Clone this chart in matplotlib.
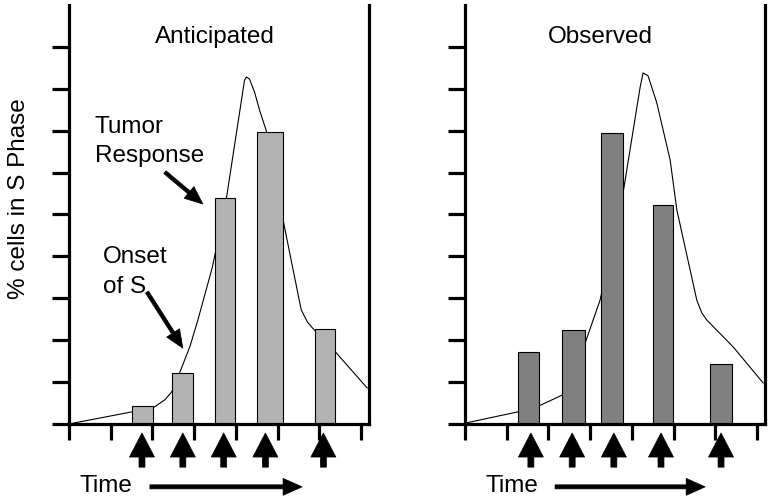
import matplotlib
matplotlib.use("Agg")
import matplotlib.pyplot as plt

plt.rcParams['font.family'] = ['Liberation Sans', 'DejaVu Sans']

# ---------------- data ----------------
panel_titles = ["Anticipated", "Observed"]
y_label = "% cells in S Phase"

# bars: centres (time units), widths, heights (% cells)
ant_bar_x = [1.76, 2.72, 3.73, 4.81, 6.14]
ant_bar_w = [0.50, 0.52, 0.48, 0.62, 0.50]
ant_bar_h = [0.43, 1.22, 5.39, 6.97, 2.27]

obs_bar_x = [1.52, 2.60, 3.525, 4.745, 6.14]
obs_bar_w = [0.50, 0.56, 0.53, 0.47, 0.52]
obs_bar_h = [1.72, 2.24, 6.94, 5.23, 1.43]

# treatment times (arrows under the axis)
ant_doses = [1.75, 2.73, 3.71, 4.71, 6.10]
obs_doses = [1.58, 2.57, 3.57, 4.70, 6.14]

# S-phase curves
ant_curve_x = [0.10, 1.51, 2.01, 2.30, 2.46, 2.66, 2.90, 3.09, 3.44, 3.78, 4.21, 4.26,
               4.33, 4.45, 4.57, 4.74, 5.12, 5.36, 5.57, 5.72, 5.84, 6.39, 7.15]
ant_curve_y = [0.02, 0.29, 0.38, 0.58, 0.76, 1.24, 1.85, 2.48, 3.75, 5.42, 8.21, 8.28,
               8.23, 7.92, 7.49, 6.97, 4.94, 3.75, 2.72, 2.43, 2.29, 1.72, 0.86]

obs_curve_x = [0.00, 1.27, 1.77, 2.33, 2.88, 3.24, 3.79, 4.20, 4.27, 4.39, 4.60,
               4.92, 5.08, 5.32, 5.56, 5.68, 5.80, 6.43, 7.15]
obs_curve_y = [0.02, 0.29, 0.43, 0.69, 1.93, 2.96, 5.51, 8.04, 8.38, 8.31, 7.66,
               6.30, 5.11, 4.03, 2.95, 2.65, 2.48, 1.84, 0.98]

y_ticks = list(range(0, 10))
x_ticks = list(range(0, 8))

# ---------------- figure ----------------
fig = plt.figure(figsize=(7.70, 4.99), dpi=100)
ax1 = fig.add_axes([69 / 770, 75 / 499, 300 / 770, 419 / 499])
ax2 = fig.add_axes([465 / 770, 75 / 499, 300 / 770, 419 / 499])

FS = 17.5
bar_colors = ["#b2b2b2", "#808080"]


def style_axes(ax):
    ax.set_xlim(0, 300 / 41.7)
    ax.set_ylim(0, 10)
    for s in ["left", "right", "bottom"]:
        ax.spines[s].set_linewidth(2.3)
        ax.spines[s].set_color("black")
    ax.spines["top"].set_visible(False)
    ax.set_yticks(y_ticks)
    ax.set_xticks(x_ticks)
    ax.set_yticklabels([])
    ax.set_xticklabels([])
    ax.tick_params(axis="y", direction="out", length=12.5, width=2.3, right=False)
    ax.tick_params(axis="x", direction="out", length=11.5, width=2.3)


def dose_arrows(ax, xs):
    for x in xs:
        ax.annotate("", xy=(x, -0.215), xytext=(x, -1.03), xycoords="data",
                    textcoords="data", annotation_clip=False,
                    arrowprops=dict(arrowstyle="simple,head_length=1.73,head_width=1.8,tail_width=0.43",
                                    mutation_scale=10, fc="black", ec="black",
                                    shrinkA=0, shrinkB=0, lw=0.5))


def time_arrow(ax, x_text, x0, x1):
    ax.text(x_text, -1.62, "Time", fontsize=FS, ha="left", va="baseline", clip_on=False)
    ax.annotate("", xy=(x1, -1.50), xytext=(x0, -1.50), xycoords="data",
                textcoords="data", annotation_clip=False,
                arrowprops=dict(arrowstyle="simple,head_length=1.37,head_width=1.22,tail_width=0.29",
                                mutation_scale=10, fc="black", ec="black",
                                shrinkA=0, shrinkB=0, lw=0.5))


def pointer(ax, xy_from, xy_to):
    ax.annotate("", xy=xy_to, xytext=xy_from, xycoords="data", textcoords="data",
                arrowprops=dict(arrowstyle="simple,head_length=1.3,head_width=1.1,tail_width=0.26",
                                mutation_scale=10, fc="black", ec="black",
                                shrinkA=0, shrinkB=0, lw=0.5))


# left panel
style_axes(ax1)
ax1.plot(ant_curve_x, ant_curve_y, color="black", lw=0.8, zorder=1,
         solid_joinstyle="round")
ax1.bar(ant_bar_x, ant_bar_h, width=ant_bar_w, color=bar_colors[0],
        edgecolor="black", linewidth=0.8, zorder=2)
ax1.text(0.487, 9.09, panel_titles[0], transform=ax1.get_yaxis_transform(),
         fontsize=FS, ha="center", va="baseline")
ax1.text(0.62, 6.945, "Tumor", fontsize=FS, ha="left", va="baseline")
ax1.text(0.62, 6.25, "Response", fontsize=FS, ha="left", va="baseline")
ax1.text(0.82, 3.84, "Onset", fontsize=FS, ha="left", va="baseline")
ax1.text(0.82, 3.13, "of S", fontsize=FS, ha="left", va="baseline")
pointer(ax1, (2.30, 6.01), (3.21, 5.25))
pointer(ax1, (1.87, 3.15), (2.73, 1.81))
dose_arrows(ax1, ant_doses)
time_arrow(ax1, 0.26, 1.94, 5.59)

# right panel
style_axes(ax2)
ax2.plot(obs_curve_x, obs_curve_y, color="black", lw=0.8, zorder=1,
         solid_joinstyle="round")
ax2.bar(obs_bar_x, obs_bar_h, width=obs_bar_w, color=bar_colors[1],
        edgecolor="black", linewidth=0.8, zorder=2)
ax2.text(0.45, 9.09, panel_titles[1], transform=ax2.get_yaxis_transform(),
         fontsize=FS, ha="center", va="baseline")
dose_arrows(ax2, obs_doses)
time_arrow(ax2, 0.48, 2.16, 5.76)

fig.text(19 / 770, 1 - 199 / 499, y_label, rotation=90, fontsize=FS,
         ha="center", va="center")

fig.savefig("out.png", dpi=100)
